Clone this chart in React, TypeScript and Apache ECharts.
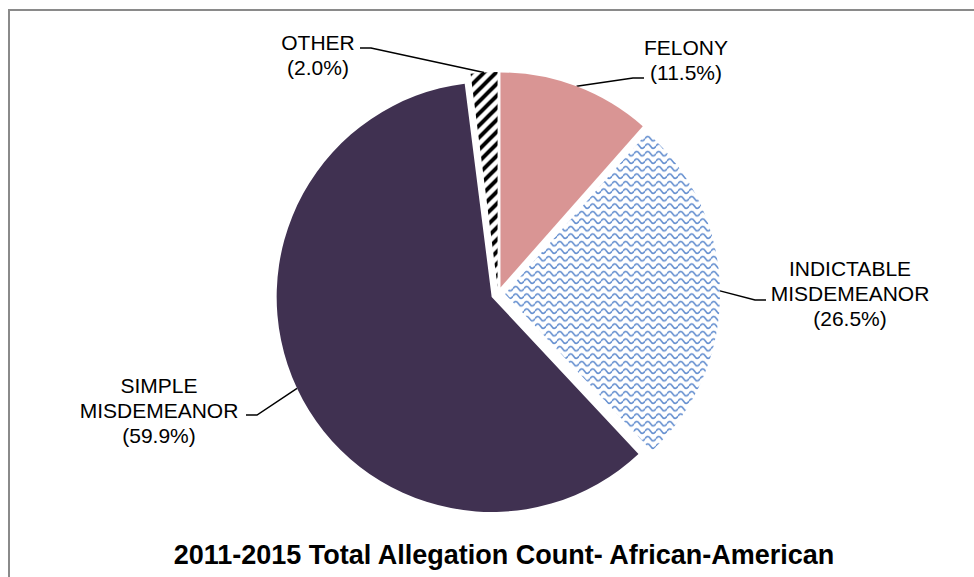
import React, { useEffect, useRef } from "react";
import * as echarts from "echarts";

const categories = ["FELONY", "INDICTABLE MISDEMEANOR", "SIMPLE MISDEMEANOR", "OTHER"];
const labelNames = ["FELONY", "INDICTABLE\nMISDEMEANOR", "SIMPLE\nMISDEMEANOR", "OTHER"];
const shares = [11.5, 26.5, 59.9, 2.0];
const chartTitle = "2011-2015 Total Allegation Count- African-American";

// label layout (positions only): text block centre, and where the leader line meets the text
const labelCenter: [number, number][] = [
  [686, 60],
  [850, 293],
  [159, 410],
  [318, 55],
];
const labelAttach: [number, number][] = [
  [644, 78],
  [766, 300],
  [246, 415],
  [360, 48],
];
const ELBOW = 11;
const OFFSET = 7;
const CENTER: [number, number] = [498, 294];
const RADIUS = 215;

const svgUrl = (s: string) => "data:image/svg+xml;charset=utf-8," + encodeURIComponent(s);

const waveTile = svgUrl(
  `<svg xmlns="http://www.w3.org/2000/svg" width="11" height="7.5" viewBox="0 0 11 7.5"><rect width="11" height="7.5" fill="#ffffff"/><path d="M0,3.75 C1.8,0.8 3.7,0.8 5.5,3.75 S9.2,6.7 11,3.75" fill="none" stroke="#6690d0" stroke-width="1.6"/></svg>`
);
const stripeTile = svgUrl(
  `<svg xmlns="http://www.w3.org/2000/svg" width="12" height="12" viewBox="0 0 12 12"><rect width="12" height="12" fill="#ffffff"/><path d="M-3,3 L3,-3 M0,12 L12,0 M9,15 L15,9" fill="none" stroke="#000000" stroke-width="4"/></svg>`
);

const FONT = "'Liberation Sans', Arial, sans-serif";

export default function App() {
  const ref = useRef<HTMLDivElement>(null);
  useEffect(() => {
    if (!ref.current) return;
    const chart = echarts.init(ref.current, null, { renderer: "svg" });
    const fills: any[] = [
      "#d99594",
      { image: waveTile, repeat: "repeat", imageWidth: 11, imageHeight: 7.5 },
      "#403151",
      { image: stripeTile, repeat: "repeat", imageWidth: 12, imageHeight: 12 },
    ];
    chart.setOption({
      animation: false,
      backgroundColor: "#ffffff",
      series: [
        {
          type: "pie",
          center: CENTER,
          radius: RADIUS,
          startAngle: 90,
          clockwise: true,
          selectedMode: "multiple",
          selectedOffset: OFFSET,
          emphasis: { scale: false },
          label: { show: false },
          labelLine: { show: false },
          data: categories.map((name, i) => ({
            name,
            value: shares[i],
            selected: true,
            itemStyle: { color: fills[i], borderWidth: 0 },
            select: { itemStyle: { color: fills[i], borderWidth: 0 } },
          })),
        },
      ],
    });

    // anchor points of the leader lines, from the pie layout the library computed
    let layouts: any[] = [];
    try {
      const data = (chart as any).getModel().getSeriesByIndex(0).getData();
      layouts = categories.map((_, i) => data.getItemLayout(i));
    } catch (e) {
      layouts = [];
    }
    const total = shares.reduce((a, b) => a + b, 0);
    let acc = -Math.PI / 2;
    const anchors = shares.map((v, i) => {
      let cx = CENTER[0], cy = CENTER[1], r = RADIUS, mid;
      const L = layouts[i];
      if (L && L.startAngle != null) {
        cx = L.cx; cy = L.cy; r = L.r;
        mid = (L.startAngle + L.endAngle) / 2;
      } else {
        const a = (v / total) * Math.PI * 2;
        mid = acc + a / 2;
        acc += a;
      }
      return [cx + (r + OFFSET) * Math.cos(mid), cy + (r + OFFSET) * Math.sin(mid)];
    });

    const graphics: any[] = [
      {
        type: "polyline",
        shape: { points: [[9, 577], [9, 10], [974, 10]] },
        style: { stroke: "#8a8a8a", lineWidth: 2, fill: null },
        silent: true,
      },
      {
        type: "text",
        x: 504,
        y: 555,
        style: {
          text: chartTitle,
          font: `bold 27px ${FONT}`,
          fill: "#000000",
          align: "center",
          verticalAlign: "middle",
        },
        silent: true,
      },
    ];
    categories.forEach((_, i) => {
      const a = anchors[i];
      const t = labelAttach[i];
      const side = t[0] > a[0] ? -1 : 1;
      graphics.push({
        type: "polyline",
        shape: { points: [a, [t[0] + side * ELBOW, t[1]], t] },
        style: { stroke: "#000000", lineWidth: 1.5, fill: null },
        silent: true,
      });
      graphics.push({
        type: "text",
        x: labelCenter[i][0],
        y: labelCenter[i][1],
        style: {
          text: `${labelNames[i]}\n(${shares[i].toFixed(1)}%)`,
          font: `21px ${FONT}`,
          lineHeight: 25,
          fill: "#000000",
          align: "center",
          verticalAlign: "middle",
        },
        silent: true,
      });
    });
    chart.setOption({ graphic: graphics });
    return () => chart.dispose();
  }, []);
  return (
    <div
      ref={ref}
      style={{ position: "fixed", left: 0, top: 0, width: 974, height: 577 }}
    />
  );
}
